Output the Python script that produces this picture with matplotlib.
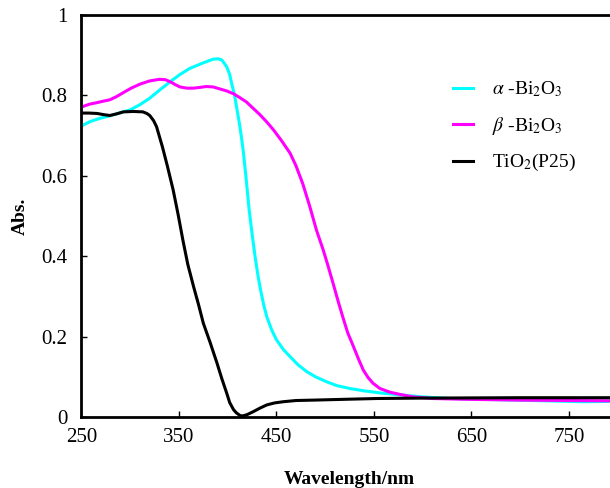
import numpy as np
import matplotlib.pyplot as plt

plt.rcParams['font.family'] = ['Liberation Serif', 'DejaVu Serif']
plt.rcParams['mathtext.fontset'] = 'stix'

# alpha-Bi2O3
alpha_wl = [250, 259, 269, 279, 290, 300, 310, 320, 330, 341, 351, 361, 375, 385, 390, 394, 399, 402,
            404, 407, 409, 412, 414, 416, 419, 422, 425, 428, 431, 434, 437, 440, 445, 450, 457, 464,
            472, 481, 490, 501, 512, 525, 540, 556, 577, 600, 628, 660, 696, 730, 764, 800]
alpha_abs = [0.724, 0.735, 0.743, 0.749, 0.757, 0.764, 0.777, 0.793, 0.813, 0.834, 0.852, 0.867, 0.881,
             0.890, 0.891, 0.888, 0.871, 0.852, 0.830, 0.800, 0.772, 0.730, 0.697, 0.660, 0.590, 0.515,
             0.455, 0.400, 0.352, 0.312, 0.278, 0.250, 0.217, 0.192, 0.168, 0.150, 0.130, 0.113, 0.100,
             0.088, 0.078, 0.071, 0.065, 0.060, 0.055, 0.050, 0.046, 0.044, 0.042, 0.040, 0.038, 0.039]

# beta-Bi2O3
beta_wl = [250, 258, 266, 273, 279, 286, 293, 301, 310, 320, 330, 336, 341, 346, 351, 358, 365, 372,
           378, 385, 392, 399, 406, 412, 419, 426, 433, 440, 447, 455, 464, 470, 477, 484, 491, 498,
           503, 508, 513, 518, 523, 529, 534, 539, 544, 549, 556, 566, 577, 590, 610, 645, 700, 800]
beta_abs = [0.771, 0.778, 0.782, 0.786, 0.789, 0.797, 0.807, 0.818, 0.828, 0.836, 0.840, 0.839, 0.834,
            0.827, 0.821, 0.818, 0.818, 0.820, 0.822, 0.821, 0.816, 0.811, 0.804, 0.795, 0.784, 0.768,
            0.752, 0.734, 0.714, 0.688, 0.656, 0.625, 0.580, 0.525, 0.465, 0.415, 0.375, 0.333, 0.290,
            0.249, 0.210, 0.175, 0.145, 0.117, 0.098, 0.084, 0.071, 0.062, 0.056, 0.050, 0.046, 0.044,
            0.042, 0.040]

# TiO2 (P25)
tio2_wl = [250, 258, 266, 273, 279, 286, 293, 303, 313, 317, 320, 324, 327, 330, 333, 338, 344, 349,
           354, 359, 365, 370, 375, 382, 389, 394, 399, 402, 406, 409, 413, 416, 420, 426, 433, 440,
           448, 457, 470, 488, 520, 553, 600, 700, 800]
tio2_abs = [0.756, 0.756, 0.755, 0.752, 0.750, 0.754, 0.759, 0.760, 0.759, 0.755, 0.750, 0.737, 0.722,
            0.697, 0.672, 0.625, 0.565, 0.505, 0.440, 0.380, 0.324, 0.280, 0.233, 0.185, 0.134, 0.095,
            0.059, 0.036, 0.018, 0.010, 0.003, 0.003, 0.006, 0.013, 0.022, 0.030, 0.035, 0.038, 0.041,
            0.042, 0.044, 0.046, 0.047, 0.048, 0.048]

fig = plt.figure(figsize=(6.1, 4.88), dpi=100)
ax = fig.add_axes([0.1336, 0.1455, 0.879, 0.8238])

ax.plot(alpha_wl, alpha_abs, color='#00FFFF', lw=2.2, label=r'$\alpha$ -Bi$_2$O$_3$')
ax.plot(beta_wl, beta_abs, color='#FF00FF', lw=2.2, label=r'$\beta$ -Bi$_2$O$_3$')
ax.plot(tio2_wl, tio2_abs, color='black', lw=2.2, label=r'TiO$_2$(P25)')

ax.set_xlim(250, 800)
ax.set_ylim(0, 1)
ax.set_xticks([250, 350, 450, 550, 650, 750])
ax.set_yticks([0, 0.2, 0.4, 0.6, 0.8, 1.0])
ax.set_yticklabels(['0', '0.2', '0.4', '0.6', '0.8', '1'])
ax.tick_params(direction='in', length=4, width=1, labelsize=15)
ax.tick_params(axis='y', pad=10)
ax.tick_params(axis='x', pad=8)
for s in ax.spines.values():
    s.set_linewidth(2)

ax.set_xlabel('Wavelength/nm', fontsize=14, fontweight='bold', labelpad=17)
ax.set_ylabel('Abs.', fontsize=14, fontweight='bold', labelpad=9)

ax.legend(loc='upper left', bbox_to_anchor=(0.742, 0.837), bbox_transform=fig.transFigure,
          frameon=False, fontsize=14, handlelength=1.05, handletextpad=1.0,
          labelspacing=0.8, borderpad=0, borderaxespad=0)

plt.savefig('out.png')
